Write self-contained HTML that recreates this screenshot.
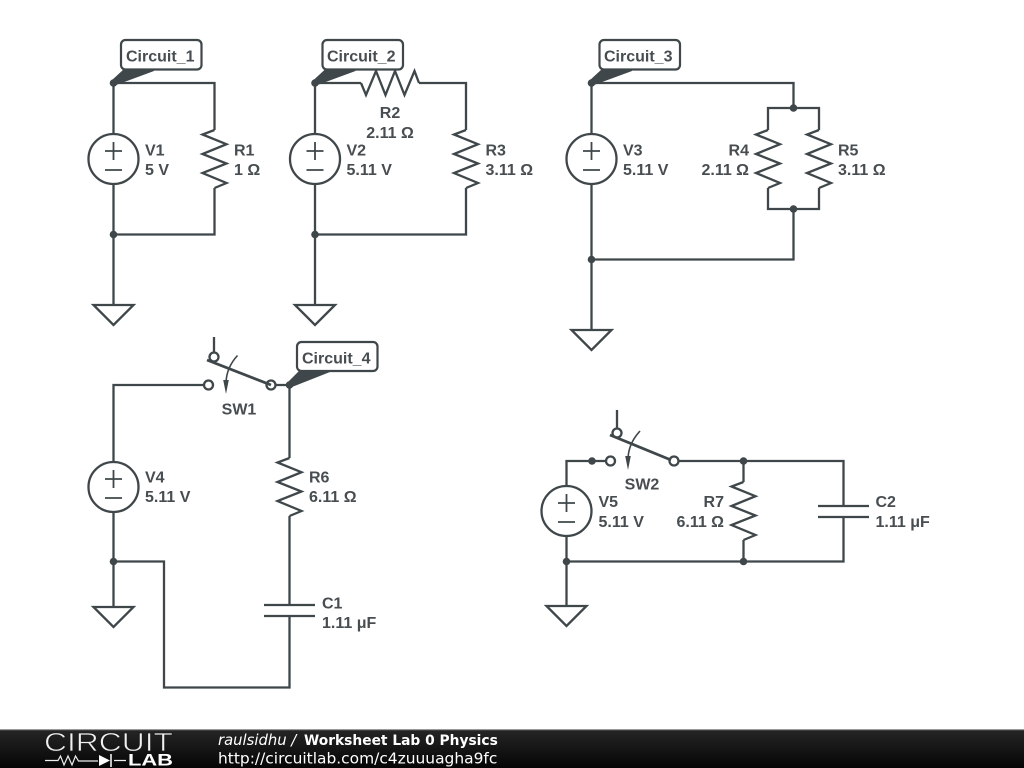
<!DOCTYPE html>
<html><head><meta charset="utf-8"><style>
html,body{margin:0;padding:0;background:#fff;width:1024px;height:768px;overflow:hidden}
svg{display:block}
.l{font:bold 16px "Liberation Sans",sans-serif;fill:#474d50}
.f{font:14px "DejaVu Sans",sans-serif;fill:#fff}
</style></head><body>
<svg width="1024" height="768" viewBox="0 0 1024 768" xmlns="http://www.w3.org/2000/svg">
<defs>
<linearGradient id="bar" x1="0" y1="0" x2="0" y2="1"><stop offset="0" stop-color="#262626"/><stop offset="1" stop-color="#050505"/></linearGradient>
<g id="vs" fill="none" stroke="#3f474a" stroke-width="2.300"><circle r="25" fill="#fff"/><path d="M-8.500-8H8.500M0-17V1M-8.500 11H8.500" stroke-width="1.800"/></g>
<path id="rv" fill="none" stroke="#3f474a" stroke-width="2.300" d="M0-29L-12-24.500 12-14.800-12-5 12 4.500-12 14 12 24 0 29"/>
<path id="rh" fill="none" stroke="#3f474a" stroke-width="2.300" d="M-29 0L-24 12-14-12-4.500 12 5-12 14.500 12 24.500-12 29 0"/>
<path id="gnd" fill="#fff" stroke="#3f474a" stroke-width="2.300" d="M-20 0H20L0 20Z"/>
<circle id="j" r="3.800" fill="#3f474a"/>
</defs>
<g fill="none" stroke="#3f474a" stroke-width="2.300">
<!-- wires -->
<path d="M113.500 83H214.500V130M214.500 188V234.500H113.500M113.500 83V305"/>
<path d="M315 83H361M419 83H466V130M466 188V234.500H315M315 83V305"/>
<path d="M591.500 83H793.500V108M768 130V108H819V130M768 188V209H819V188M793.500 209V259.500H591.500M591.500 83V330"/>
<path d="M204 385H113.500V561V607M113.500 561.500H164V687.500H289.500V616M289.500 605V516M289.500 458V385H276"/>
<path d="M264 605H315M264 616H315"/>
<path d="M214 352V337"/>
<path d="M605.500 461H566.500V606M566.500 561.500H843.500V517M843.500 506V461H679M743.500 461V482M743.500 540V561"/>
<path d="M818 506H869M818 517H869"/>
<path d="M617 428V410"/>
<!-- switches -->
<circle cx="208.500" cy="385" r="4.500" fill="#fff"/>
<circle cx="271" cy="385" r="4.500" fill="#fff"/>
<circle cx="214" cy="357" r="4.500" fill="#fff"/>
<path d="M207 360L271 385" stroke-width="2.800"/>
<path d="M237.500 355.500Q226 368 226 384" stroke-width="1.600"/>
<circle cx="610.500" cy="461" r="4.500" fill="#fff"/>
<circle cx="674" cy="461" r="4.500" fill="#fff"/>
<circle cx="617" cy="433" r="4.500" fill="#fff"/>
<path d="M610 435L671 460" stroke-width="2.800"/>
<path d="M640 431Q628 444 628 460" stroke-width="1.600"/>
</g>
<path d="M223.200 380H228.800L226 394ZM625.200 456H630.800L628 470Z" fill="#3f474a"/>
<use href="#vs" x="113.500" y="159"/><use href="#vs" x="315" y="159"/><use href="#vs" x="591.500" y="159"/><use href="#vs" x="113.500" y="487"/><use href="#vs" x="566.500" y="511"/>
<use href="#rv" x="214.500" y="159"/><use href="#rv" x="466" y="159"/><use href="#rv" x="768" y="159"/><use href="#rv" x="819" y="159"/><use href="#rv" x="289.500" y="487"/><use href="#rv" x="743.500" y="511"/>
<use href="#rh" x="390" y="83"/>
<use href="#gnd" x="113.500" y="305"/><use href="#gnd" x="315" y="305"/><use href="#gnd" x="591.500" y="330"/><use href="#gnd" x="113.500" y="607"/><use href="#gnd" x="566.500" y="606"/>
<!-- junctions -->
<use href="#j" x="113.500" y="83"/><use href="#j" x="113.500" y="234.500"/><use href="#j" x="315" y="83"/><use href="#j" x="315" y="234.500"/><use href="#j" x="591.500" y="83"/><use href="#j" x="793.500" y="108"/><use href="#j" x="793.500" y="209"/><use href="#j" x="591.500" y="259.500"/><use href="#j" x="289.500" y="385"/><use href="#j" x="113.500" y="561.500"/><use href="#j" x="592" y="461"/><use href="#j" x="743.500" y="461"/><use href="#j" x="566.500" y="561.500"/><use href="#j" x="743.500" y="561.500"/>
<!-- tags -->
<g fill="#3f474a">
<path d="M111 81L124 69H154V71L116 85Z"/><path d="M312.500 81L325.500 69H355.500V71L317.500 85Z"/><path d="M589 81L602 69H632V71L594 85Z"/><path d="M287 383L300 370H330V372L292 387Z"/>
</g>
<g fill="#fff" stroke="#3f474a" stroke-width="2.200">
<rect x="121" y="40" width="80.500" height="29.500" rx="4.500"/>
<rect x="322.500" y="40" width="80.500" height="29.500" rx="4.500"/>
<rect x="599.500" y="40" width="80.500" height="29.500" rx="4.500"/>
<rect x="297" y="342" width="80.500" height="29" rx="4.500"/>
</g>
<g>
<text class="l" x="126" y="61.500">Circuit_1</text>
<text class="l" x="327" y="61.500">Circuit_2</text>
<text class="l" x="604" y="61.500">Circuit_3</text>
<text class="l" x="302" y="363.500">Circuit_4</text>
<text class="l" x="145" y="155.500">V1</text><text class="l" x="145" y="175">5 V</text>
<text class="l" x="234" y="155.500">R1</text><text class="l" x="234" y="175">1 Ω</text>
<text class="l" x="346.500" y="155.500">V2</text><text class="l" x="346.500" y="175">5.11 V</text>
<text class="l" x="390" y="118" text-anchor="middle">R2</text><text class="l" x="390" y="138" text-anchor="middle">2.11 Ω</text>
<text class="l" x="485.500" y="155.500">R3</text><text class="l" x="485.500" y="175">3.11 Ω</text>
<text class="l" x="623" y="155.500">V3</text><text class="l" x="623" y="175">5.11 V</text>
<text class="l" x="749" y="155.500" text-anchor="end">R4</text><text class="l" x="749" y="175" text-anchor="end">2.11 Ω</text>
<text class="l" x="838" y="155.500">R5</text><text class="l" x="838" y="175">3.11 Ω</text>
<text class="l" x="239" y="414.500" text-anchor="middle">SW1</text>
<text class="l" x="145" y="482.500">V4</text><text class="l" x="145" y="502">5.11 V</text>
<text class="l" x="309" y="482.500">R6</text><text class="l" x="309" y="502">6.11 Ω</text>
<text class="l" x="322" y="608.500">C1</text><text class="l" x="322" y="628">1.11 μF</text>
<text class="l" x="642" y="489.500" text-anchor="middle">SW2</text>
<text class="l" x="598.500" y="507">V5</text><text class="l" x="598.500" y="527">5.11 V</text>
<text class="l" x="724" y="507" text-anchor="end">R7</text><text class="l" x="724" y="527" text-anchor="end">6.11 Ω</text>
<text class="l" x="875.500" y="507">C2</text><text class="l" x="875.500" y="527">1.11 μF</text>
</g>
<!-- footer -->
<rect x="0" y="729" width="1024" height="39" fill="url(#bar)"/>
<rect x="0" y="729" width="1024" height="1.200" fill="#9a9a9a"/>
<text x="44" y="751" textLength="129" lengthAdjust="spacingAndGlyphs" style="font:25.500px 'Liberation Sans',sans-serif;fill:#f0f0f0;stroke:#1a1a1a;stroke-width:.7px">CIRCUIT</text>
<path d="M45 760.500H58L60.500 756 64 765 68 756 72 765 75.500 756 78.500 761H98M114 760.500H126" fill="none" stroke="#eee" stroke-width="1.200"/>
<path d="M99 755L110 760.500 99 766Z" fill="#fff"/><path d="M111 754V767" stroke="#fff" stroke-width="1.500"/>
<text x="128" y="765.500" textLength="45" lengthAdjust="spacingAndGlyphs" style="font:bold 17px 'Liberation Sans',sans-serif;fill:#fff">LAB</text>
<text class="f" x="218" y="745"><tspan font-style="italic" font-size="14.800">raulsidhu /</tspan></text>
<text class="f" x="304" y="745" font-weight="bold" style="font-weight:bold;font-size:13.800px">Worksheet Lab 0 Physics</text>
<text class="f" x="218" y="763.500" style="font-size:15.450px">http://circuitlab.com/c4zuuuagha9fc</text>
</svg>
</body></html>
